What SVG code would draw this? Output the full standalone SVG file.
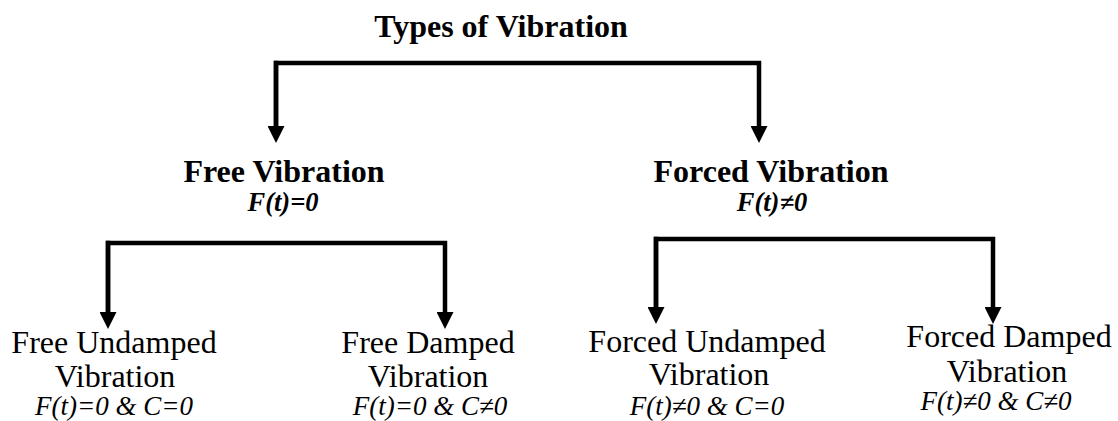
<svg xmlns="http://www.w3.org/2000/svg" width="1118" height="421" viewBox="0 0 1118 421">
  <style>
    text { font-family: "Liberation Serif", "Times New Roman", serif; fill: #000; text-anchor: middle; }
    .h1 { font-size: 32px; font-weight: bold; }
    .h2 { font-size: 32px; font-weight: bold; }
    .cond { font-size: 26.5px; font-weight: bold; font-style: italic; }
    .leaf { font-size: 32px; }
    .leafc { font-size: 27px; font-style: italic; }
    .conn { fill: none; stroke: #000; stroke-width: 4.5; stroke-linejoin: miter; stroke-linecap: square; }
  </style>
  <defs>
    <marker id="arr" markerUnits="userSpaceOnUse" markerWidth="17" markerHeight="17" viewBox="0 0 17 17" refX="5" refY="8.5" orient="auto">
      <path d="M0,0 L17,8.5 L0,17 z" fill="#000"/>
    </marker>
  </defs>
  <rect width="1118" height="421" fill="#fff"/>

  <g id="connectors">
    <path class="conn" d="M276,131 V63 H759 V131" marker-end="url(#arr)"/>
    <path class="conn" d="M276,63 V131" marker-end="url(#arr)"/>
    <path class="conn" d="M108,317 V243 H445 V317" marker-end="url(#arr)"/>
    <path class="conn" d="M108,243 V317" marker-end="url(#arr)"/>
    <path class="conn" d="M656,312 V239 H993 V312" marker-end="url(#arr)"/>
    <path class="conn" d="M656,239 V312" marker-end="url(#arr)"/>
  </g>

  <g id="root">
    <text class="h1" x="501" y="37">Types of Vibration</text>
  </g>
  <g id="free">
    <text class="h2" x="284" y="182">Free Vibration</text>
    <text class="cond" x="283" y="211">F(t)=0</text>
  </g>
  <g id="forced">
    <text class="h2" x="771" y="182">Forced Vibration</text>
    <text class="cond" x="772" y="211">F(t)≠0</text>
  </g>
  <g id="free-undamped">
    <text class="leaf" x="114" y="353">Free Undamped</text>
    <text class="leaf" x="115" y="387">Vibration</text>
    <text class="leafc" x="114" y="415">F(t)=0 &amp; C=0</text>
  </g>
  <g id="free-damped">
    <text class="leaf" x="428" y="353">Free Damped</text>
    <text class="leaf" x="428" y="387">Vibration</text>
    <text class="leafc" x="430" y="415">F(t)=0 &amp; C≠0</text>
  </g>
  <g id="forced-undamped">
    <text class="leaf" x="707" y="352">Forced Undamped</text>
    <text class="leaf" x="709" y="385">Vibration</text>
    <text class="leafc" x="707" y="415">F(t)≠0 &amp; C=0</text>
  </g>
  <g id="forced-damped">
    <text class="leaf" x="1009" y="347">Forced Damped</text>
    <text class="leaf" x="1007" y="382">Vibration</text>
    <text class="leafc" x="996" y="410">F(t)≠0 &amp; C≠0</text>
  </g>
</svg>
